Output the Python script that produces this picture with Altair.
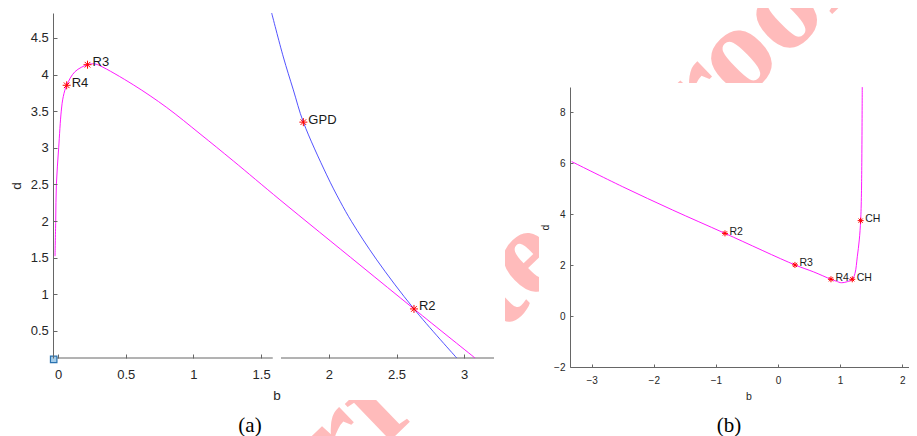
import altair as alt
import pandas as pd

# ---------------- data ----------------
# panel (a): magenta branch
a_mag_b = [-0.022, -0.017, -0.012, 0.005, 0.024, 0.039, 0.064, 0.126, 0.218, 0.27, 0.31,
           0.556, 0.803, 1.049, 1.295, 1.639, 2.23, 2.629, 3.08]
a_mag_d = [1.52, 2.0, 2.5, 3.0, 3.5, 3.70, 3.853, 4.04, 4.134, 4.145, 4.12,
           3.86, 3.55, 3.19, 2.82, 2.29, 1.40, 0.80, 0.13]
# panel (a): blue branch
a_blue_b = [1.578, 1.664, 1.738, 1.812, 1.984, 2.083, 2.169, 2.354, 2.629, 2.945]
a_blue_d = [4.84, 4.24, 3.79, 3.35, 2.63, 2.27, 1.99, 1.47, 0.80, 0.13]
# panel (a): special points
a_pt_name = ["R4", "R3", "GPD", "R2"]
a_pt_b = [0.064, 0.218, 1.812, 2.629]
a_pt_d = [3.853, 4.134, 3.35, 0.80]
# panel (a): start square
a_sq_b = [-0.032]
a_sq_d = [0.11]
# panel (a): broken x axis segments
a_seg_lo = [-0.037, 1.647]
a_seg_hi = [1.586, 3.22]
a_xdom = [-0.037, 3.22]
a_ydom = [0.13, 4.84]
a_xticks = [0, 0.5, 1, 1.5, 2, 2.5, 3]
a_yticks = [0.5, 1, 1.5, 2, 2.5, 3, 3.5, 4, 4.5]

# panel (b): magenta curve
b_b = [-3.323, -2.5, -1.7, -0.854, 0.273, 0.57, 0.853, 0.94, 1.025, 1.196, 1.24,
       1.277, 1.309, 1.331, 1.344, 1.357]
b_d = [6.07, 5.08, 4.17, 3.25, 2.01, 1.74, 1.446, 1.37, 1.31, 1.446, 1.68,
       2.33, 2.99, 3.75, 4.83, 9.0]
b_pt_name = ["R2", "R3", "R4", "CH", "CH"]
b_pt_b = [-0.854, 0.273, 0.853, 1.196, 1.331]
b_pt_d = [3.25, 2.01, 1.446, 1.446, 3.75]
b_xdom = [-3.35, 2.2]
b_ydom = [-2, 9]
b_xticks = [-3, -2, -1, 0, 1, 2]
b_yticks = [-2, 0, 2, 4, 6, 8]

WATERMARK = "Uncorrected Proof"

# ---------------- style ----------------
W, H = 901, 428
SANS = "Liberation Sans"
SERIF = "Liberation Serif"
AX = "#666666"
LBL = "#262626"
ASTER = "M0,-1L0,1M-1,0L1,0M-0.7,-0.7L0.7,0.7M-0.7,0.7L0.7,-0.7"

one = pd.DataFrame({"k": [0]})

# ---------------- watermark & backgrounds ----------------
wm = alt.Chart(one).mark_text(
    text=WATERMARK, font=SERIF, fontWeight="bold", fontSize=126, angle=316,
    align="center", baseline="middle", color="#ffbbbb"
).encode(x=alt.value(466), y=alt.value(299))

occ_a = alt.Chart(one).mark_rect(color="white").encode(
    x=alt.value(0), x2=alt.value(497), y=alt.value(0), y2=alt.value(392))
occ_b = alt.Chart(one).mark_rect(color="white").encode(
    x=alt.value(531), x2=alt.value(W), y=alt.value(75), y2=alt.value(H))

# ---------------- panel (a) ----------------
xa = alt.Scale(domain=a_xdom, range=[45, 486], nice=False, zero=False)
ya = alt.Scale(domain=a_ydom, range=[350, 5], nice=False, zero=False)

ax_a_x = alt.Axis(orient="top", offset=-350, values=a_xticks, format="~g",
                  domain=False, ticks=True, tickSize=4, tickColor=AX, tickWidth=1,
                  labelFont=SANS, labelFontSize=13, labelColor=LBL,
                  labelPadding=-24.3, labelBaseline="alphabetic",
                  labelFlush=False, labelOverlap=False, grid=False,
                  title="b", titleFont=SANS, titleFontSize=13.5, titleFontWeight="normal",
                  titleColor=LBL, titleX=268.5, titleY=41, titleBaseline="alphabetic",
                  titleAlign="center", titleAngle=0, zindex=1)
ax_a_y = alt.Axis(orient="right", offset=45 - W, values=a_yticks, format="~g",
                  domain=True, domainColor=AX, domainWidth=1,
                  ticks=True, tickSize=4, tickColor=AX, tickWidth=1,
                  labelFont=SANS, labelFontSize=13, labelColor=LBL,
                  labelPadding=-8.7, labelAlign="right",
                  labelFlush=False, labelOverlap=False, grid=False,
                  title="d", titleFont=SANS, titleFontSize=13.5, titleFontWeight="normal",
                  titleColor=LBL, titleX=-37, titleY=177.5, titleAngle=270,
                  titleBaseline="middle", titleAlign="center", zindex=1)

def XA(f="b"):
    return alt.X(f + ":Q", scale=xa, axis=ax_a_x)

def YA(f="d"):
    return alt.Y(f + ":Q", scale=ya, axis=ax_a_y)

df_a_mag = pd.DataFrame({"b": a_mag_b, "d": a_mag_d, "i": list(range(len(a_mag_b)))})
df_a_blue = pd.DataFrame({"b": a_blue_b, "d": a_blue_d, "i": list(range(len(a_blue_b)))})
df_a_pt = pd.DataFrame({"b": a_pt_b, "d": a_pt_d, "name": a_pt_name})
df_a_sq = pd.DataFrame({"b": a_sq_b, "d": a_sq_d})
df_a_seg = pd.DataFrame({"b": a_seg_lo, "b2": a_seg_hi, "d": [a_ydom[0]] * 2})

a_seg = alt.Chart(df_a_seg).mark_rule(color=AX, strokeWidth=1).encode(
    x=XA(), x2="b2:Q", y=YA())
a_mag = alt.Chart(df_a_mag).mark_line(color="#ff00ff", strokeWidth=1, opacity=0.9,
                                      interpolate="catmull-rom").encode(
    x=XA(), y=YA(), order="i:Q")
a_blue = alt.Chart(df_a_blue).mark_line(color="#3535ff", strokeWidth=1, opacity=0.85,
                                        interpolate="catmull-rom").encode(
    x=XA(), y=YA(), order="i:Q")
a_pts = alt.Chart(df_a_pt).mark_point(shape=ASTER, filled=False, color="#ff0000",
                                      size=64, strokeWidth=1, opacity=1).encode(
    x=XA(), y=YA())
a_lbl = alt.Chart(df_a_pt).mark_text(align="left", baseline="middle", dx=5, dy=-2.5,
                                     font=SANS, fontSize=13, color="#1a1a1a").encode(
    x=XA(), y=YA(), text="name:N")
a_sq = alt.Chart(df_a_sq).mark_point(shape="square", filled=True, fill="#a4cdea",
                                     stroke="#2a72b0", strokeWidth=1.2, size=42,
                                     opacity=1).encode(x=XA(), y=YA())

panel_a = alt.layer(a_seg, a_mag, a_blue, a_pts, a_lbl, a_sq)

# ---------------- panel (b) ----------------
xb = alt.Scale(domain=b_xdom, range=[562, 906.6], nice=False, zero=False)
yb = alt.Scale(domain=b_ydom, range=[359, 79], nice=False, zero=False)

ax_b_x = alt.Axis(orient="top", offset=-359, values=b_xticks, format="~g",
                  domain=True, domainColor=AX, domainWidth=1,
                  ticks=True, tickSize=3, tickColor=AX, tickWidth=1,
                  labelFont=SANS, labelFontSize=10, labelColor=LBL,
                  labelPadding=-19.3, labelBaseline="alphabetic",
                  labelFlush=False, labelOverlap=False, grid=False,
                  title="b", titleFont=SANS, titleFontSize=10.5, titleFontWeight="normal",
                  titleColor=LBL, titleX=740.3, titleY=32, titleBaseline="alphabetic",
                  titleAlign="center", titleAngle=0, zindex=1)
ax_b_y = alt.Axis(orient="right", offset=562 - W, values=b_yticks, format="~g",
                  domain=True, domainColor=AX, domainWidth=1,
                  ticks=True, tickSize=3, tickColor=AX, tickWidth=1,
                  labelFont=SANS, labelFontSize=10, labelColor=LBL,
                  labelPadding=-8, labelAlign="right",
                  labelFlush=False, labelOverlap=False, grid=False,
                  title="d", titleFont=SANS, titleFontSize=10.5, titleFontWeight="normal",
                  titleColor=LBL, titleX=-25, titleY=219, titleAngle=270,
                  titleBaseline="middle", titleAlign="center", zindex=1)

def XB(f="b"):
    return alt.X(f + ":Q", scale=xb, axis=ax_b_x)

def YB(f="d"):
    return alt.Y(f + ":Q", scale=yb, axis=ax_b_y)

df_b = pd.DataFrame({"b": b_b, "d": b_d, "i": list(range(len(b_b)))})
df_b_pt = pd.DataFrame({"b": b_pt_b, "d": b_pt_d, "name": b_pt_name})

b_line = alt.Chart(df_b).mark_line(color="#ff00ff", strokeWidth=1, opacity=0.9,
                                   interpolate="catmull-rom").encode(
    x=XB(), y=YB(), order="i:Q")
b_pts = alt.Chart(df_b_pt).mark_point(shape=ASTER, filled=False, color="#ff0000",
                                      size=36, strokeWidth=1, opacity=1).encode(
    x=XB(), y=YB())
b_lbl = alt.Chart(df_b_pt).mark_text(align="left", baseline="middle", dx=4.5, dy=-1.5,
                                     font=SANS, fontSize=10.5, color="#1a1a1a").encode(
    x=XB(), y=YB(), text="name:N")

panel_b = alt.layer(b_line, b_pts, b_lbl)

# ---------------- captions ----------------
cap_a = alt.Chart(one).mark_text(text="(a)", font=SERIF, fontSize=21, color="black",
                                 align="center", baseline="alphabetic").encode(
    x=alt.value(242), y=alt.value(423.5))
cap_b = alt.Chart(one).mark_text(text="(b)", font=SERIF, fontSize=21, color="black",
                                 align="center", baseline="alphabetic").encode(
    x=alt.value(721), y=alt.value(423.5))

chart = alt.layer(wm, occ_a, occ_b, panel_a, panel_b, cap_a, cap_b).resolve_scale(
    x="independent", y="independent"
).properties(
    width=W, height=H, padding=0,
    autosize=alt.AutoSizeParams(type="none"),
    background="white",
).configure_view(strokeWidth=0)

chart.save("out.html", embed_options={"renderer": "svg", "actions": False})
